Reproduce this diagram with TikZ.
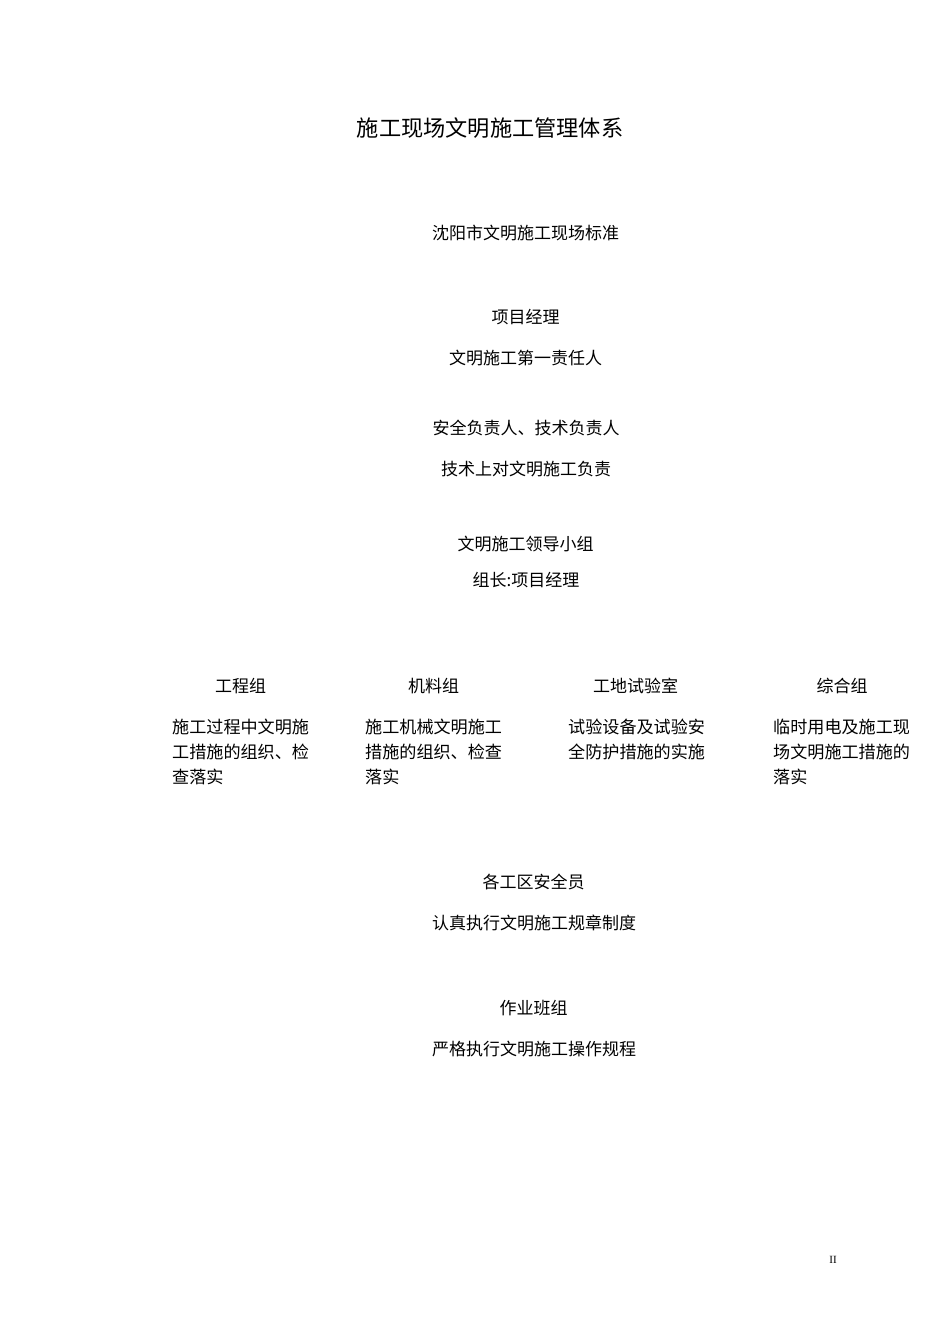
\documentclass[tikz,border=0pt]{standalone}
\usepackage{fontspec}
\newfontfamily\cjk{Noto Sans CJK SC}
\setmainfont{Liberation Serif}
\begin{document}
\begin{tikzpicture}[x=1pt,y=-1pt,
  body/.style={font=\cjk\fontsize{17}{25}\selectfont, inner sep=0pt, anchor=base},
  titletext/.style={font=\cjk\fontsize{22.2}{26}\selectfont, inner sep=0pt, anchor=base},
  blocktext/.style={font=\cjk\fontsize{17.1}{25}\selectfont, inner sep=0pt, anchor=north west, align=left}]
\useasboundingbox[fill=white] (0,0) rectangle (950,1344);
\node[titletext] (title) at (490,136) {施工现场文明施工管理体系};
\node[body] (std) at (525.5,239.5) {沈阳市文明施工现场标准};
\node[body] (pm) at (525.5,323.5) {项目经理};
\node[body] (pmd) at (525.5,364.5) {文明施工第一责任人};
\node[body] (saf) at (526,434.5) {安全负责人、技术负责人};
\node[body] (safd) at (526,475.5) {技术上对文明施工负责};
\node[body] (lead) at (525.5,550.5) {文明施工领导小组};
\node[body] (leadd) at (526,586.5) {组长:项目经理};
\node[body] (g1) at (240.5,692.5) {工程组};
\node[body] (g2) at (433.5,692.5) {机料组};
\node[body] (g3) at (635.5,692.5) {工地试验室};
\node[body] (g4) at (842,692.5) {综合组};
\node[blocktext] (g1d) at (172,718.5) {施工过程中文明施\\工措施的组织、检\\查落实};
\node[blocktext] (g2d) at (365,718.5) {施工机械文明施工\\措施的组织、检查\\落实};
\node[blocktext] (g3d) at (568,718.5) {试验设备及试验安\\全防护措施的实施};
\node[blocktext] (g4d) at (773,718.5) {临时用电及施工现\\场文明施工措施的\\落实};
\node[body] (area) at (533.5,888.5) {各工区安全员};
\node[body] (aread) at (534,929.5) {认真执行文明施工规章制度};
\node[body] (team) at (533.5,1014.5) {作业班组};
\node[body] (teamd) at (534,1055.5) {严格执行文明施工操作规程};
\node[font=\fontsize{11}{13}\selectfont, inner sep=0pt, anchor=base] (pg) at (833,1263) {II};
\end{tikzpicture}
\end{document}
